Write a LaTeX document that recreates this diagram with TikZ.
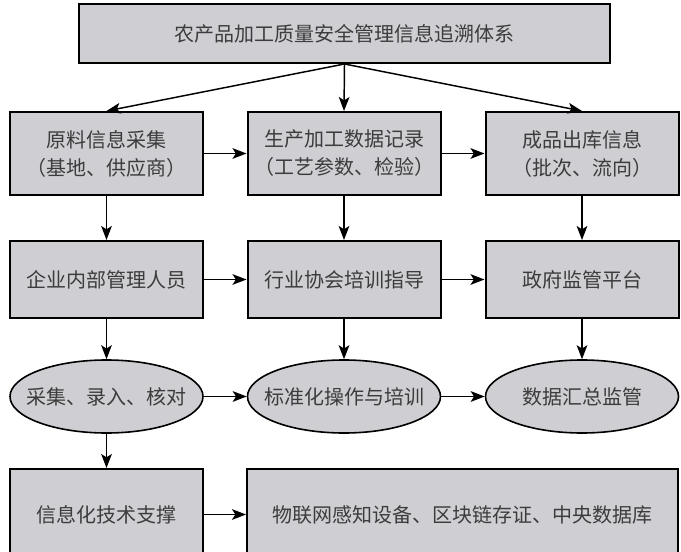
\documentclass[tikz,border=0pt]{standalone}
\usepackage{fontspec}
\setmainfont{Noto Sans CJK SC}
\usetikzlibrary{shapes.geometric,arrows.meta}
\definecolor{boxgray}{RGB}{206,206,211}
\definecolor{txtgray}{RGB}{60,60,60}

\begin{document}
\begin{tikzpicture}[x=0.75pt,y=-0.75pt,
  every node/.style={text=txtgray,font=\fontsize{15}{21}\selectfont,align=center},
  box/.style={draw,rectangle,fill=boxgray,line width=1.5pt,minimum width=144.75pt,inner sep=0pt},
  oval/.style={draw,ellipse,fill=boxgray,line width=1.2pt,minimum width=144.75pt,minimum height=54.75pt,inner xsep=-9pt,inner ysep=0pt},
  >={Stealth[length=10.5pt,width=8pt,inset=2.5pt]},
  every path/.append style={line width=1.1pt}]
\useasboundingbox (0,0) rectangle (681,552);

\node[box,minimum width=398.25pt,minimum height=44.25pt] (0) at (344.5,33.5) {农产品加工质量安全管理信息追溯体系};

\node[box,minimum height=62.25pt] (1) at (106.5,153.5) {原料信息采集\\（基地、供应商）};
\node[box,minimum height=62.25pt] (2) at (344,153.5) {生产加工数据记录\\（工艺参数、检验）};
\node[box,minimum height=62.25pt] (3) at (582,153.5) {成品出库信息\\（批次、流向）};

\draw[->] (0.south)--(1.north);
\draw[->] (0.south)--(2.north);
\draw[->] (0.south)--(3.north);
\draw[->] (1)--(2);
\draw[->] (2)--(3);

\node[box,minimum height=57.75pt] (4) at (106.5,279.5) {企业内部管理人员};
\node[box,minimum height=57.75pt] (5) at (344,279.5) {行业协会培训指导};
\node[box,minimum height=57.75pt] (6) at (582,279.5) {政府监管平台};

\draw[->] (1)--(4);
\draw[->] (2)--(5);
\draw[->] (3)--(6);
\draw[->] (4)--(5);
\draw[->] (5)--(6);

\node[oval] (7) at (106.5,396.5) {采集、录入、核对};
\node[oval] (8) at (344,396.5) {标准化操作与培训};
\node[oval] (9) at (582,396.5) {数据汇总监管};

\draw[->] (4)--(7);
\draw[->] (5)--(8);
\draw[->] (6)--(9);
\draw[->] (7)--(8);
\draw[->] (8)--(9);

\node[box,minimum height=68.25pt] (10) at (106.5,514.5) {信息化技术支撑};
\node[box,minimum width=323.25pt,minimum height=68.25pt] (11) at (462.5,514.5) {物联网感知设备、区块链存证、中央数据库};

\draw[->] (7)--(10);
\draw[->] (10)--(11);
\end{tikzpicture}
\end{document}
